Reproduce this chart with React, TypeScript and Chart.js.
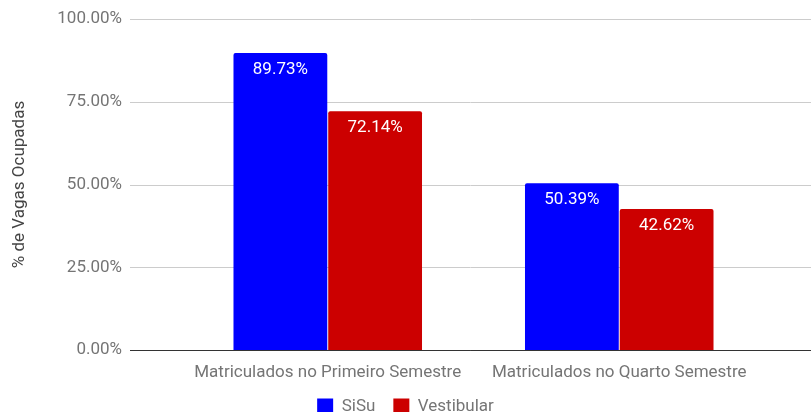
import React, { useEffect, useRef } from "react";
import { Chart, registerables } from "chart.js";

Chart.register(...registerables);

const categories = ["Matriculados no Primeiro Semestre", "Matriculados no Quarto Semestre"];
const sisuValues = [89.73, 50.39];
const vestibularValues = [72.14, 42.62];
const yTicks = [0, 25, 50, 75, 100];

const FONT = "Roboto, 'Noto Sans', sans-serif";

export default function App() {
  const ref = useRef<HTMLCanvasElement | null>(null);

  useEffect(() => {
    if (!ref.current) return;

    const gridPlugin = {
      id: "fullGrid",
      beforeDatasetsDraw(chart: any) {
        const ctx = chart.ctx;
        const y = chart.scales.y;
        ctx.save();
        yTicks.forEach((v) => {
          const py = Math.round(y.getPixelForValue(v)) + 0.5;
          ctx.beginPath();
          ctx.strokeStyle = v === 0 ? "#333333" : "#cccccc";
          ctx.lineWidth = 1;
          ctx.moveTo(130, py);
          ctx.lineTo(811, py);
          ctx.stroke();
        });
        ctx.restore();
      },
      afterDatasetsDraw(chart: any) {
        const ctx = chart.ctx;
        const y = chart.scales.y;
        const py = Math.round(y.getPixelForValue(0)) + 0.5;
        ctx.save();
        ctx.beginPath();
        ctx.strokeStyle = "#333333";
        ctx.lineWidth = 1;
        ctx.moveTo(130, py);
        ctx.lineTo(811, py);
        ctx.stroke();
        ctx.font = `17px ${FONT}`;
        ctx.fillStyle = "#ffffff";
        ctx.textAlign = "center";
        ctx.textBaseline = "middle";
        chart.data.datasets.forEach((ds: any, i: number) => {
          const meta = chart.getDatasetMeta(i);
          meta.data.forEach((bar: any, j: number) => {
            ctx.fillText(ds.data[j].toFixed(2) + "%", bar.x, bar.y + 17);
          });
        });
        ctx.restore();
      },
    };

    const chart = new Chart(ref.current, {
      type: "bar",
      data: {
        labels: categories,
        datasets: [
          {
            label: "SiSu",
            data: sisuValues,
            backgroundColor: "#0000ff",
            borderRadius: 2,
            barPercentage: 0.99,
            categoryPercentage: 0.65,
          },
          {
            label: "Vestibular",
            data: vestibularValues,
            backgroundColor: "#cc0000",
            borderRadius: 2,
            barPercentage: 0.99,
            categoryPercentage: 0.65,
          },
        ],
      },
      options: {
        responsive: false,
        animation: false,
        layout: { padding: { top: 19, right: 0, left: 0, bottom: -13 } },
        plugins: {
          tooltip: { enabled: false },
          legend: {
            position: "bottom",
            labels: {
              boxWidth: 16,
              boxHeight: 16,
              padding: 18,
              color: "#757575",
              font: { family: FONT, size: 17 },
            },
          },
        },
        scales: {
          x: {
            grid: { display: false },
            border: { display: false },
            ticks: {
              color: "#757575",
              font: { family: FONT, size: 17 },
              padding: 5,
              maxRotation: 0,
            },
            afterFit(scale: any) {
              scale.height = 30;
              scale.paddingLeft = 0;
              scale.paddingRight = 0;
            },
          },
          y: {
            min: 0,
            max: 100,
            grid: { display: false },
            border: { display: false },
            afterBuildTicks(scale: any) {
              scale.ticks = yTicks.map((v) => ({ value: v }));
            },
            ticks: {
              color: "#757575",
              font: { family: FONT, size: 17 },
              padding: 52,
              callback: (v: any) => Number(v).toFixed(2) + "%",
            },
            title: {
              display: true,
              text: "% de Vagas Ocupadas",
              color: "#444444",
              font: { family: FONT, size: 17 },
              padding: { top: 10, bottom: 0 },
            },
            afterFit(scale: any) {
              scale.width = 182;
              scale.paddingTop = 0;
              scale.paddingBottom = 0;
            },
          },
          yRight: {
            type: "linear",
            position: "right",
            min: 0,
            max: 100,
            grid: { display: false },
            border: { display: false },
            ticks: { display: false },
            afterFit(scale: any) {
              scale.width = 46;
              scale.paddingTop = 0;
              scale.paddingBottom = 0;
            },
          },
        },
      },
      plugins: [gridPlugin],
    });

    return () => chart.destroy();
  }, []);

  return (
    <div style={{ position: "fixed", left: 0, top: 0, width: 811, height: 412, background: "#fff" }}>
      <canvas ref={ref} width={811} height={412} style={{ width: 811, height: 412 }} />
    </div>
  );
}
